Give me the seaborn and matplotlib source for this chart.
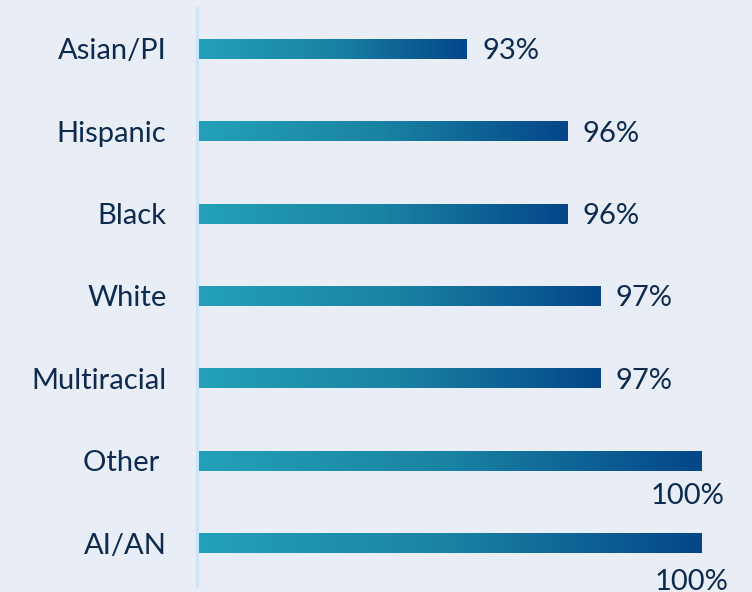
import numpy as np
import pandas as pd
import seaborn as sns
import matplotlib.pyplot as plt
from matplotlib.colors import LinearSegmentedColormap

# Dữ liệu
groups = ['Asian/PI', 'Hispanic', 'Black', 'White', 'Multiracial', 'Other ', 'AI/AN']
values = [93, 96, 96, 97, 97, 100, 100]
labels = ['93%', '96%', '96%', '97%', '97%', '100%', '100%']

df = pd.DataFrame({'group': groups, 'value': values})

bg = '#e9eef6'
txt = '#0d2b4e'
grad = LinearSegmentedColormap.from_list('grad', ['#23a1b8', '#1a82a2', '#034689'])

sns.set_style("white")
plt.rcParams['font.family'] = ['Lato', 'DejaVu Sans']

fig = plt.figure(figsize=(7.52, 5.92), dpi=100, facecolor=bg)
ax = fig.add_axes([197 / 752, 0, 1 - 197 / 752, 1])
ax.set_facecolor(bg)

sns.barplot(data=df, x='value', y='group', orient='h', width=0.243,
            color='#1a82a2', ax=ax)

ax.set_xlim(84.94, 101.52)
ax.set_ylim(6.595, -0.595)

# Tô gradient cho từng thanh
for p in ax.patches:
    x0 = 85
    x1 = p.get_x() + p.get_width()
    y0 = p.get_y()
    y1 = y0 + p.get_height()
    img = ax.imshow(np.linspace(0, 1, 256).reshape(1, -1), cmap=grad, aspect='auto',
                    extent=[x0, x1, y1, y0], zorder=3)
    img.set_clip_path(p)
    p.set_facecolor('none')
    p.set_edgecolor('none')
ax.set_xlim(84.94, 101.52)
ax.set_ylim(6.595, -0.595)

# Nhãn giá trị
fs = 21
for i, (v, lab) in enumerate(zip(values, labels)):
    if v >= 100:
        dx = -10 if i == 5 else -7
        dy = -25.5 if i == 5 else -28
        ax.annotate(lab, (v, i), xytext=(dx, dy), textcoords='offset points',
                    ha='center', va='center', fontsize=fs, color=txt)
    else:
        ax.annotate(lab, (v, i), xytext=(11, -1.8), textcoords='offset points',
                    ha='left', va='center', fontsize=fs, color=txt)

for s in ['top', 'right', 'bottom']:
    ax.spines[s].set_visible(False)
ax.spines['left'].set_color('#cde5fa')
ax.spines['left'].set_linewidth(2.5)
ax.spines['left'].set_bounds(-0.5, 6.51)

ax.set_xticks([])
ax.set_xlabel('')
ax.set_ylabel('')
ax.tick_params(axis='y', length=0, pad=22, labelsize=fs, labelcolor=txt)

plt.savefig('out.png', dpi=100, facecolor=bg)
